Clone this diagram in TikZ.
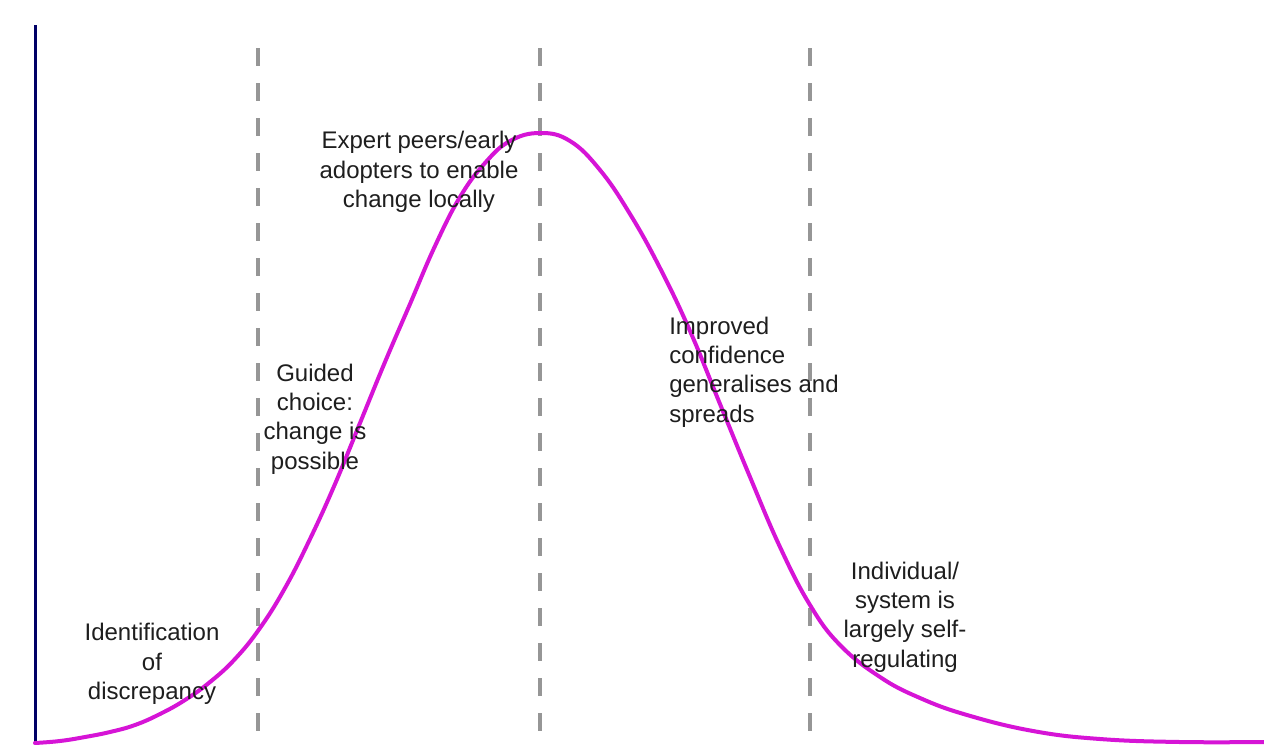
\documentclass[tikz,border=0pt]{standalone}
\usepackage{fontspec}
\setmainfont{Liberation Sans}
\usepackage{tikz}

\begin{document}
\begin{tikzpicture}[x=0.75pt,y=0.75pt,yscale=-1,xscale=1]
    \useasboundingbox (0,0) rectangle (1264,744); %same size as the reference
    \fill [white] (0,0) rectangle (1264,744);

    %Straight Lines (dashed phase borders)
    \draw [color={rgb, 255:red, 150; green, 150; blue, 150 }][line width=3] [dash pattern={on 13.5pt off 12.75pt}] (258,48) -- (258,744) ;
    %Straight Lines
    \draw [color={rgb, 255:red, 150; green, 150; blue, 150 }][line width=3] [dash pattern={on 13.5pt off 12.75pt}] (540,48) -- (540,744) ;
    %Straight Lines
    \draw [color={rgb, 255:red, 150; green, 150; blue, 150 }][line width=3] [dash pattern={on 13.5pt off 12.75pt}] (810,48) -- (810,744) ;

    %Straight Lines (axis)
    \draw [color={rgb, 255:red, 0; green, 0; blue, 102 }][line width=2.25] (35,25) -- (35,744) ;

    %Curve Lines
    \draw [color={rgb, 255:red, 214; green, 20; blue, 214 }][line width=3] [line join = round][line cap = round]
      plot [smooth, tension=0.7] coordinates {(35,743) (60,741) (85,737) (110,732) (135,725) (160,714) (185,700) (210,682) (235,659) (260,628) (285,588) (310,539) (335,484) (360,423) (385,362) (410,304) (435,246) (460,197) (485,163) (510,141) (540,133) (570,141) (600,170) (630,214) (660,268) (690,331) (720,404) (750,477) (780,547) (810,605) (840,645) (880,677) (920,698) (967,715) (1033,731) (1100,739) (1180,742) (1264,742)} ;

    % Text Node
    \draw (152,664) node (ident) [align=center][inner sep=0.75pt][color={rgb, 255:red, 30; green, 30; blue, 30 }][font=\fontsize{18}{22}\selectfont] {Identification\\of\\discrepancy};
    % Text Node
    \draw (315,419) node (guided) [align=center][inner sep=0.75pt][color={rgb, 255:red, 30; green, 30; blue, 30 }][font=\fontsize{18}{22}\selectfont] {Guided\\choice:\\change is\\possible};
    % Text Node
    \draw (419,172) node (expert) [align=center][inner sep=0.75pt][color={rgb, 255:red, 30; green, 30; blue, 30 }][font=\fontsize{18}{22}\selectfont] {Expert peers/early\\adopters to enable\\change locally};
    % Text Node
    \draw (668,372) node (improved) [anchor=west][align=left][inner sep=0.75pt][color={rgb, 255:red, 30; green, 30; blue, 30 }][font=\fontsize{18}{22}\selectfont] {Improved\\confidence\\generalises and\\spreads};
    % Text Node
    \draw (905,617) node (selfreg) [align=center][inner sep=0.75pt][color={rgb, 255:red, 30; green, 30; blue, 30 }][font=\fontsize{18}{22}\selectfont] {Individual/\\system is\\largely self-\\regulating};
\end{tikzpicture}
\end{document}
